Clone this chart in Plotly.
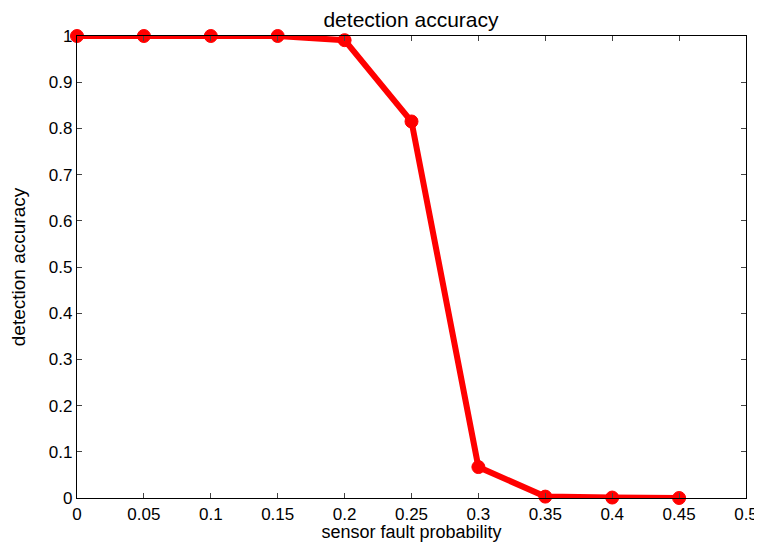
import plotly.graph_objects as go

x_vals = [0, 0.05, 0.1, 0.15, 0.2, 0.25, 0.3, 0.35, 0.4, 0.45]
accuracy = [1.0, 1.0, 1.0, 1.0, 0.991, 0.815, 0.067, 0.003, 0.001, 0.0]
x_ticks = [0, 0.05, 0.1, 0.15, 0.2, 0.25, 0.3, 0.35, 0.4, 0.45, 0.5]
x_tick_labels = ["0", "0.05", "0.1", "0.15", "0.2", "0.25", "0.3", "0.35", "0.4", "0.45", "0.5"]
y_ticks = [0, 0.1, 0.2, 0.3, 0.4, 0.5, 0.6, 0.7, 0.8, 0.9, 1]
y_tick_labels = ["0", "0.1", "0.2", "0.3", "0.4", "0.5", "0.6", "0.7", "0.8", "0.9", "1"]

fig = go.Figure()
fig.add_trace(go.Scatter(
    x=x_vals, y=accuracy, mode="lines+markers",
    line=dict(color="#ff0000", width=6),
    marker=dict(symbol="circle", size=13, color="#ff0000",
                line=dict(color="#ff0000", width=1)),
    cliponaxis=False, showlegend=False,
))

font = "Liberation Sans, Arial, sans-serif"
axis_common = dict(
    showline=True, linecolor="black", linewidth=1.2, mirror="ticks",
    ticks="inside", ticklen=5, tickcolor="#444", tickwidth=1,
    showgrid=False, zeroline=False, automargin=False,
    ticklabeloverflow="allow",
    tickfont=dict(family=font, size=17, color="black"),
)
# page body has an 8px margin, so the figure is offset by 8px
W, H = 754, 534
fig.update_layout(
    width=W, height=H,
    margin=dict(l=69, r=16, t=28, b=44),
    paper_bgcolor="white", plot_bgcolor="white",
    title=dict(text="detection accuracy", x=403 / W, xanchor="center", y=1 - 12 / H, yanchor="middle",
               font=dict(family=font, size=21, color="black")),
    xaxis=dict(range=[0, 0.5], tickvals=x_ticks, ticktext=x_tick_labels,
               title=dict(text="sensor fault probability", standoff=8,
                          font=dict(family=font, size=18, color="black")),
               **axis_common),
    yaxis=dict(range=[0, 1], tickvals=y_ticks, ticktext=y_tick_labels,
               title=dict(text="detection accuracy", standoff=26,
                          font=dict(family=font, size=19, color="black")),
               **axis_common),
)
fig.write_html("out.html")
